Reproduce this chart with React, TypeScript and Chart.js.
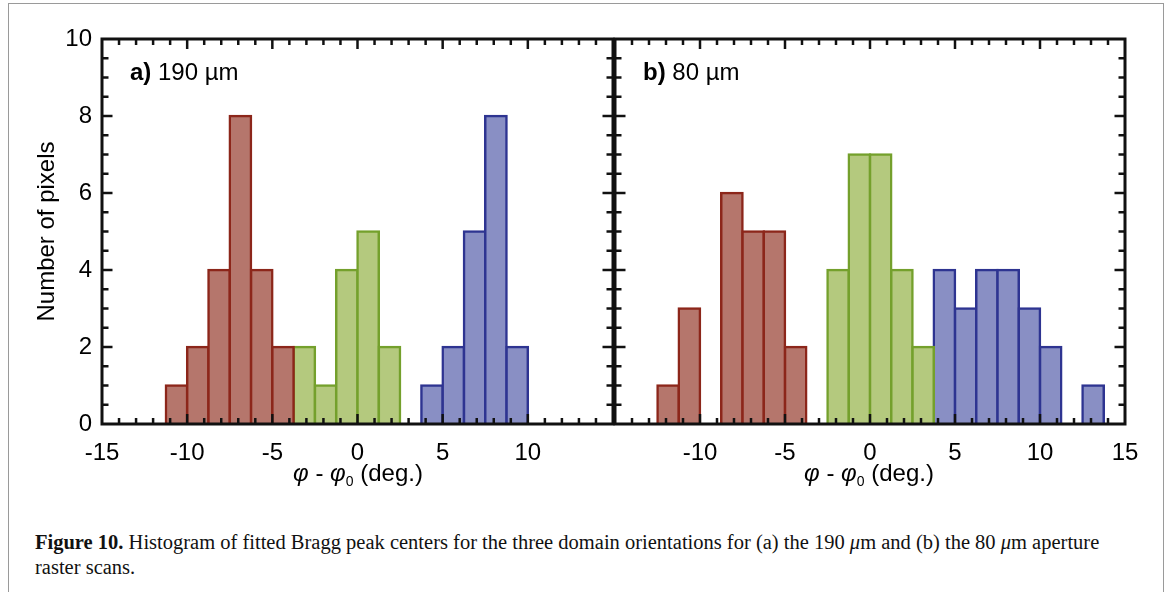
import React, { useEffect, useRef } from 'react';
import { Chart, registerables } from 'chart.js';

Chart.register(...registerables);

// ---------- data ----------
const BIN_WIDTH = 1.25;

// panel a) 190 µm  (bin left edges, counts)
const A_RED_BINS = [-11.25, -10, -8.75, -7.5, -6.25, -5];
const A_RED_COUNTS = [1, 2, 4, 8, 4, 2];
const A_GREEN_BINS = [-3.75, -2.5, -1.25, 0, 1.25];
const A_GREEN_COUNTS = [2, 1, 4, 5, 2];
const A_BLUE_BINS = [3.75, 5, 6.25, 7.5, 8.75];
const A_BLUE_COUNTS = [1, 2, 5, 8, 2];

// panel b) 80 µm
const B_RED_BINS = [-12.5, -11.25, -8.75, -7.5, -6.25, -5];
const B_RED_COUNTS = [1, 3, 6, 5, 5, 2];
const B_GREEN_BINS = [-2.5, -1.25, 0, 1.25, 2.5];
const B_GREEN_COUNTS = [4, 7, 7, 4, 2];
const B_BLUE_BINS = [3.75, 5, 6.25, 7.5, 8.75, 10, 12.5];
const B_BLUE_COUNTS = [4, 3, 4, 4, 3, 2, 1];

const X_LABELS_A = [-15, -10, -5, 0, 5, 10];
const X_LABELS_B = [-10, -5, 0, 5, 10, 15];
const Y_LABELS = [0, 2, 4, 6, 8, 10];

const X_MIN = -15;
const X_MAX = 15;
const Y_MIN = 0;
const Y_MAX = 10;

// ---------- styles ----------
const FONT = "'Liberation Sans', Arial, Helvetica, sans-serif";
const SERIF = "'Liberation Serif', 'Times New Roman', serif";
const RED = { fill: 'rgb(181,118,108)', line: 'rgb(140,38,26)' };
const GREEN = { fill: 'rgb(180,201,126)', line: 'rgb(116,160,44)' };
const BLUE = { fill: 'rgb(137,143,196)', line: 'rgb(46,52,145)' };

function toPoints(bins: number[], counts: number[]) {
  return bins.map((b, i) => ({ x: b + BIN_WIDTH / 2, y: counts[i] }));
}

function dataset(bins: number[], counts: number[], c: { fill: string; line: string }) {
  return {
    data: toPoints(bins, counts),
    backgroundColor: c.fill,
    borderColor: c.line,
    borderWidth: 2.5,
    inflateAmount: 1.25,
    grouped: false,
    barPercentage: 1,
    categoryPercentage: 1,
  };
}

const frameTicks = {
  id: 'frameTicks',
  afterDatasetsDraw(chart: any) {
    const { ctx, chartArea } = chart;
    const { left, right, top, bottom } = chartArea;
    const x = chart.scales.x;
    const y = chart.scales.y;
    ctx.save();
    ctx.strokeStyle = '#111';
    ctx.lineCap = 'butt';
    ctx.lineWidth = 2.5;
    const seg = (x1: number, y1: number, x2: number, y2: number) => {
      ctx.beginPath();
      ctx.moveTo(x1, y1);
      ctx.lineTo(x2, y2);
      ctx.stroke();
    };
    for (let v = Math.ceil(x.min); v <= x.max; v += 1) {
      const px = x.getPixelForValue(v);
      if (px <= left + 1 || px >= right - 1) continue;
      const len = v % 5 === 0 ? 10 : 6;
      seg(px, bottom, px, bottom - len);
      seg(px, top, px, top + len);
    }
    for (let v = y.min; v <= y.max + 1e-9; v += 0.5) {
      const py = y.getPixelForValue(v);
      if (py <= top + 1 || py >= bottom - 1) continue;
      const len = v % 2 === 0 ? 10.5 : 6.5;
      seg(left, py, left + len, py);
      seg(right, py, right - len, py);
    }
    ctx.lineWidth = 3;
    ctx.strokeRect(left, top, right - left, bottom - top);
    ctx.restore();
  },
};

function makeConfig(panel: 'a' | 'b') {
  const isA = panel === 'a';
  const labels = isA ? X_LABELS_A : X_LABELS_B;
  const datasets = isA
    ? [
        dataset(A_RED_BINS, A_RED_COUNTS, RED),
        dataset(A_GREEN_BINS, A_GREEN_COUNTS, GREEN),
        dataset(A_BLUE_BINS, A_BLUE_COUNTS, BLUE),
      ]
    : [
        dataset(B_RED_BINS, B_RED_COUNTS, RED),
        dataset(B_GREEN_BINS, B_GREEN_COUNTS, GREEN),
        dataset(B_BLUE_BINS, B_BLUE_COUNTS, BLUE),
      ];
  return {
    type: 'bar' as const,
    data: { datasets },
    options: {
      animation: false,
      responsive: false,
      maintainAspectRatio: false,
      layout: {
        autoPadding: false,
        padding: isA ? { left: 0, top: 39, right: 17, bottom: 0 } : { left: 0, top: 39, right: 43, bottom: 0 },
      },
      plugins: { legend: { display: false }, tooltip: { enabled: false } },
      scales: {
        x: {
          type: 'linear' as const,
          min: X_MIN,
          max: X_MAX,
          offset: false,
          grid: { display: false, drawTicks: false },
          border: { display: false },
          ticks: {
            stepSize: 5,
            autoSkip: false,
            maxRotation: 0,
            padding: 15,
            color: '#000',
            font: { family: FONT, size: 24 },
            callback: (v: any) => (labels.includes(Number(v)) ? String(v) : ''),
          },
          afterFit(s: any) {
            s.height = 76;
          },
        },
        y: {
          min: Y_MIN,
          max: Y_MAX,
          grid: { display: false, drawTicks: false },
          border: { display: false },
          ticks: {
            display: isA,
            stepSize: 2,
            padding: 10,
            color: '#000',
            font: { family: FONT, size: 24 },
            callback: (v: any) => (Y_LABELS.includes(Number(v)) ? String(v) : ''),
          },
          title: {
            display: isA,
            text: 'Number of pixels',
            color: '#000',
            font: { family: FONT, size: 24 },
            padding: { top: 33, bottom: 0 },
          },
          afterFit(s: any) {
            s.width = isA ? 102 : 13;
          },
        },
      },
    },
    plugins: [frameTicks],
  };
}

const phi = <span style={{ fontStyle: 'italic' }}>φ</span>;

function XTitle({ center }: { center: number }) {
  return (
    <div
      style={{
        position: 'absolute',
        left: center - 150,
        width: 300,
        top: 461,
        textAlign: 'center',
        fontFamily: FONT,
        fontSize: 24,
        lineHeight: '24px',
        color: '#000',
        whiteSpace: 'nowrap',
      }}
    >
      {phi} - {phi}
      <sub style={{ fontSize: 14, verticalAlign: 'baseline', position: 'relative', top: 5 }}>0</sub> (deg.)
    </div>
  );
}

function PanelLabel({ left, tag, text }: { left: number; tag: string; text: string }) {
  return (
    <div
      style={{
        position: 'absolute',
        left,
        top: 60,
        fontFamily: FONT,
        fontSize: 24,
        lineHeight: '24px',
        color: '#000',
        whiteSpace: 'nowrap',
      }}
    >
      <b>{tag}</b> {text}
    </div>
  );
}

export default function App() {
  const refA = useRef<HTMLCanvasElement>(null);
  const refB = useRef<HTMLCanvasElement>(null);

  useEffect(() => {
    const a = new Chart(refA.current as HTMLCanvasElement, makeConfig('a') as any);
    const b = new Chart(refB.current as HTMLCanvasElement, makeConfig('b') as any);
    return () => {
      a.destroy();
      b.destroy();
    };
  }, []);

  return (
    <div
      style={{
        position: 'absolute',
        left: 0,
        top: 0,
        width: 1168,
        height: 592,
        overflow: 'hidden',
        background: '#fff',
      }}
    >
      <div
        style={{
          position: 'absolute',
          left: 8,
          top: 3,
          width: 1154,
          height: 650,
          border: '1.5px solid #9a9a9a',
        }}
      />
      <canvas
        ref={refA}
        width={630}
        height={500}
        style={{ position: 'absolute', left: 0, top: 0, width: 630, height: 500 }}
      />
      <canvas
        ref={refB}
        width={568}
        height={500}
        style={{ position: 'absolute', left: 600, top: 0, width: 568, height: 500 }}
      />
      <PanelLabel left={130} tag="a)" text="190 µm" />
      <PanelLabel left={643} tag="b)" text="80 µm" />
      <XTitle center={358} />
      <XTitle center={869} />
      <div
        style={{
          position: 'absolute',
          left: 35,
          top: 530,
          fontFamily: SERIF,
          fontSize: 20.5,
          lineHeight: '25px',
          color: '#111',
          whiteSpace: 'nowrap',
        }}
      >
        <b>Figure 10.</b> Histogram of fitted Bragg peak centers for the three domain orientations for (a) the 190{' '}
        <i>μ</i>m and (b) the 80 <i>μ</i>m aperture
        <br />
        raster scans.
      </div>
    </div>
  );
}
